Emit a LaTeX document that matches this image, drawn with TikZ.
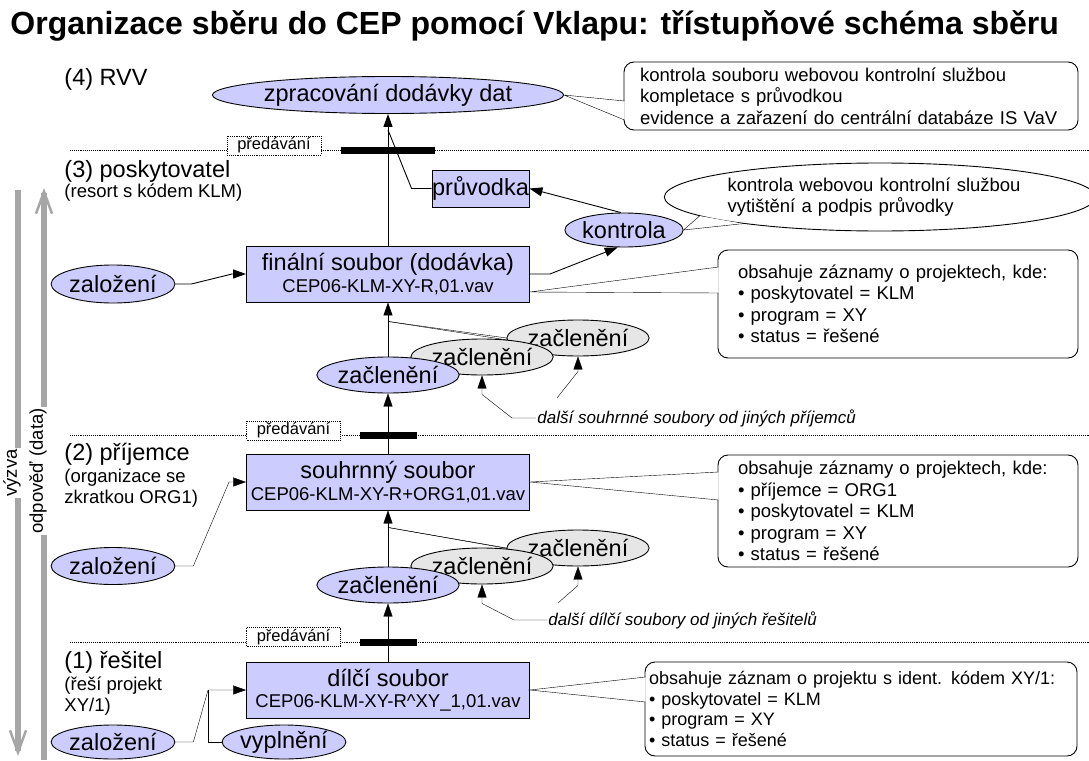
\documentclass[tikz,border=0pt]{standalone}
\usepackage{fontspec}
\setmainfont{Liberation Sans}
\usepackage{tikz}
\usetikzlibrary{arrows.meta,calc,positioning,shapes.geometric,backgrounds}
\definecolor{boxfill}{HTML}{CCCCFF}
\definecolor{ovalgray}{HTML}{E6E6E6}
\definecolor{flowgray}{HTML}{A6A6A6}
\newcommand{\titlef}{\fontsize{32}{36}\bfseries\selectfont}
\newcommand{\bigf}{\fontsize{23.5}{27}\selectfont}
\newcommand{\smallf}{\fontsize{18.5}{21.5}\selectfont}
\newcommand{\tightf}{\fontsize{18}{20.5}\selectfont}
\newcommand{\passf}{\fontsize{16.5}{18}\selectfont}
\newcommand{\notef}{\fontsize{17}{20}\itshape\selectfont}
\tikzset{
  filebox/.style={draw,fill=boxfill,minimum width=283pt,minimum height=56pt,align=center,inner sep=0pt,font=\smallf},
  oval/.style={ellipse,draw,fill=boxfill,minimum width=133pt,minimum height=36pt,inner sep=0pt,font=\bigf},
  grayoval/.style={oval,fill=ovalgray},
  tier/.style={anchor=west,inner sep=0pt,font=\bigf},
  subtier/.style={anchor=west,inner sep=0pt,align=left,font=\smallf},
  handover/.style={draw,densely dotted,fill=white,minimum width=94pt,minimum height=19pt,inner sep=0pt,font=\passf},
  handbar/.style={fill=black,minimum height=7pt,inner sep=0pt},
  bubble/.style={draw,fill=white,rounded corners=10pt,align=left,font=\smallf,inner ysep=0pt},
  note/.style={anchor=west,inner sep=1pt,font=\notef},
  arr/.style={-{Triangle[length=13pt,width=9pt]}},
  bubtail/.style={fill=white},
  flow/.style={flowgray,line width=5.5pt,-{Straight Barb[length=22pt,width=16pt,line width=2.5pt]}},
  split/.style={densely dotted}
}

\begin{document}
\begin{tikzpicture}[x=1pt,y=-1pt,line width=0.9pt]
  \useasboundingbox (0,0) rectangle (1089,760);
  \node[anchor=west,inner sep=0pt,font=\titlef] (title) at (10,26) {Organizace sběru do CEP pomocí Vklapu: třístupňové schéma sběru};

  % vyzva / odpoved
  \coordinate (callTop) at (18,190);
  \coordinate (callEnd) at (18,756);
  \coordinate (ansStart) at (44,760);
  \coordinate (ansEnd) at (44,188);
  \draw[flow] (callTop) -- (callEnd);
  \draw[flow] (ansStart) -- (ansEnd);
  \node[rotate=90,fill=white,inner sep=1pt,font=\smallf] (callLbl) at (12,473) {výzva};
  \node[rotate=90,fill=white,inner sep=1pt,font=\smallf] (ansLbl) at (38,471) {odpověď (data)};

  % urovne
  \node[tier] (lv4) at (64,79) {(4) RVV};
  \node[tier] (lv3) at (64,171) {(3) poskytovatel};
  \node[subtier] (lv3s) at (64,193) {(resort s kódem KLM)};
  \node[tier] (lv2) at (64,454) {(2) příjemce};
  \node[subtier] (lv2s) at (64,488) {(organizace se\\zkratkou ORG1)};
  \node[tier] (lv1) at (64,662) {(1) řešitel};
  \node[subtier] (lv1s) at (64,696) {(řeší projekt\\XY/1)};

  \foreach \y in {150,435,642}
    \draw[split] (70,\y) -- (1089,\y);
  \node[handover] (pass3) at (274,145.5) {předávání};
  \node[handbar,minimum width=94pt] (bar3) at (388,150.5) {};
  \node[handover] (pass2) at (293.5,430.5) {předávání};
  \node[handbar,minimum width=57pt] (bar2) at (388,435) {};
  \node[handover] (pass1) at (293.5,637) {předávání};
  \node[handbar,minimum width=57pt] (bar1) at (388,642) {};

  % (4) a (3)
  \node[oval,minimum width=320pt,minimum height=37pt] (zprac) at (388,95) {zpracování dodávky dat};
  \node[filebox,minimum width=97pt,minimum height=37pt,font=\bigf] (pruv) at (480.5,188.5) {průvodka};
  \node[oval,minimum width=114pt,minimum height=34pt] (kontr) at (624,230) {kontrola};
  \node[filebox] (fin) at (388,274) {{\bigf finální soubor (dodávka)}\\CEP06-KLM-XY-R,01.vav};
  \node[oval,minimum width=113pt,minimum height=38pt] (zal3) at (113,284) {založení};
  \node[grayoval] (zac3c) at (578,338) {začlenění};
  \node[grayoval] (zac3b) at (482,357) {začlenění};
  \node[oval] (zac3a) at (388,375) {začlenění};
  \node[note] (more3) at (536,418) {další souhrnné soubory od jiných příjemců};

  % (2)
  \node[filebox] (souhrn) at (388,482) {{\bigf souhrnný soubor}\\CEP06-KLM-XY-R+ORG1,01.vav};
  \node[oval,minimum width=113pt,minimum height=37pt] (zal2) at (113,566) {založení};
  \node[grayoval] (zac2c) at (578,548) {začlenění};
  \node[grayoval] (zac2b) at (482,566) {začlenění};
  \node[oval] (zac2a) at (388,585) {začlenění};
  \node[note] (more2) at (547,620) {další dílčí soubory od jiných řešitelů};

  % (1)
  \node[filebox] (dilci) at (388,690) {{\bigf dílčí soubor}\\CEP06-KLM-XY-R\textasciicircum XY\_1,01.vav};
  \node[oval,minimum width=113pt,minimum height=34pt] (zal1) at (113,742) {založení};
  \node[oval,minimum width=111pt,minimum height=34pt] (vypl) at (284,742) {vyplnění};

  % komentare
  \node[bubble,text width=422pt,inner xsep=16pt,minimum height=68pt] (info4) at (851,96)
    {kontrola souboru webovou kontrolní službou\\kompletace s průvodkou\\evidence a zařazení do centrální databáze IS VaV};
  \node[bubble,ellipse,text width=305pt,inner xsep=0pt,minimum width=398pt,minimum height=68pt] (info3a) at (880,197)
    {kontrola webovou kontrolní službou\\vytištění a podpis průvodky};
  \node[bubble,text width=320pt,inner xsep=20pt,minimum height=108pt] (info3) at (898,304)
    {obsahuje záznamy o projektech, kde:\\• poskytovatel = KLM\\• program = XY\\• status = řešené};
  \node[bubble,text width=320pt,inner xsep=20pt,minimum height=112pt] (info2) at (898,511)
    {obsahuje záznamy o projektech, kde:\\• příjemce = ORG1\\• poskytovatel = KLM\\• program = XY\\• status = řešené};
  \node[bubble,font=\tightf,text width=424pt,inner xsep=4pt,minimum height=94pt] (info1) at (861,709)
    {obsahuje záznam o projektu s ident. kódem XY/1:\\• poskytovatel = KLM\\• program = XY\\• status = řešené};

  % spojnice
  \coordinate (j4) at ([yshift=-16pt]zprac.south);
  \draw[arr] (fin.north) -- (zprac.south);
  \draw (pruv.west) -- ++(-20,0) -- (j4);
  \draw[arr] (kontr.100) -- (pruv.east);
  \draw[arr] (fin.east) -- ++(20,0) -- (kontr.250);
  \draw[arr] (zal3.east) -- ++(16,0) -- ([xshift=-14pt]fin.west) -- (fin.west);

  \coordinate (j3) at ([yshift=-19pt]fin.south);
  \draw[arr] (zac3a.north) -- (fin.south);
  \begin{pgfonlayer}{background}
    \draw (zac3c.west) -- (j3);
    \draw (zac3b.north east) -- (j3);
  \end{pgfonlayer}
  \draw[arr] (more3.west) -- ++(-24,0) -- ([yshift=-19pt]zac3b.south) -- (zac3b.south);
  \coordinate (f3) at ($(more3.west)+(21,-20)$);
  \draw[arr] (f3) -- ([yshift=-15pt]zac3c.south) -- (zac3c.south);
  \draw[arr] (souhrn.north) -- (zac3a.south);

  \draw[arr] (zal2.east) -- ++(18,0) -- ([xshift=-17pt]souhrn.west) -- (souhrn.west);
  \coordinate (j2) at ([yshift=-17pt]souhrn.south);
  \draw[arr] (zac2a.north) -- (souhrn.south);
  \begin{pgfonlayer}{background}
    \draw (zac2c.west) -- (j2);
    \draw (zac2b.north east) -- (j2);
  \end{pgfonlayer}
  \draw[arr] (more2.west) -- ++(-33,0) -- ([yshift=-19pt]zac2b.south) -- (zac2b.south);
  \coordinate (f2) at ($(more2.west)+(11,-17)$);
  \draw[arr] (f2) -- ([yshift=-19pt]zac2c.south) -- (zac2c.south);
  \draw[arr] (dilci.north) -- (zac2a.south);

  \coordinate (j1) at ([xshift=-38pt]dilci.west);
  \draw[arr] (zal1.east) -- ++(18,0) -- (j1) -- (dilci.west);
  \draw (vypl.west) -- (vypl.west -| j1) -- (j1);

  % ocasky komentaru
  \filldraw[bubtail] ([xshift=1pt,yshift=-5pt]info4.west) -- (zprac.east) -- ([xshift=1pt,yshift=-24pt]info4.west);
  \filldraw[bubtail] (info3a.186) -- (kontr.east) -- (info3a.191);
  \filldraw[bubtail] ([xshift=1pt,yshift=37pt]info3.west) -- ([yshift=-18pt]fin.east) -- ([xshift=1pt,yshift=11pt]info3.west);
  \filldraw[bubtail] ([xshift=1pt,yshift=39pt]info2.west) -- (souhrn.east) -- ([xshift=1pt,yshift=11pt]info2.west);
  \filldraw[bubtail] ([xshift=1pt,yshift=32pt]info1.west) -- (dilci.east) -- ([xshift=1pt,yshift=7pt]info1.west);
\end{tikzpicture}
\end{document}
